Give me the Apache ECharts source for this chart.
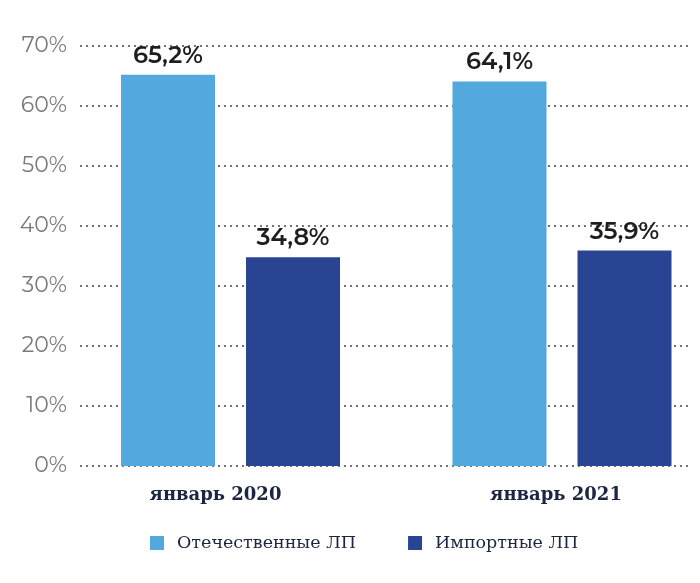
<!DOCTYPE html>
<html><head><meta charset="utf-8">
<script src="https://cdn.jsdelivr.net/npm/echarts@6/dist/echarts.min.js"></script>
<style>html,body{margin:0;padding:0;background:#fff}#c{width:700px;height:583px}</style>
</head><body><div id="c"></div>
<script>
const categories = ['январь 2020', 'январь 2021'];
const seriesNames = ['Отечественные ЛП', 'Импортные ЛП'];
const domestic = [65.2, 64.1];
const imported = [34.8, 35.9];
const yMin = 0, yMax = 70, yStep = 10;

const fmt = v => String(v).replace('.', ',') + '%';
const chart = echarts.init(document.getElementById('c'));
const labelStyle = {show: true, position: 'top', distance: 7, fontFamily: 'Montserrat, "Open Sans", sans-serif',
  fontSize: 24, fontWeight: 600, color: '#1e1e1e', formatter: p => fmt(p.value)};
const xLabelFont = {fontFamily: '"DejaVu Serif", serif', fontWeight: 'bold', fontSize: 18, color: '#1c2541'};
chart.setOption({
  animation: false,
  grid: [
    {left: 80, right: 10, top: 46, bottom: 117},
    {left: 230.5, width: 331.5, top: 46, bottom: 117}
  ],
  legend: {
    data: seriesNames, bottom: 26, left: 145, itemWidth: 14, itemHeight: 14, itemGap: 52,
    icon: 'rect',
    textStyle: {fontFamily: '"DejaVu Serif", serif', fontSize: 17.5, color: '#1c2541', padding: [0, 0, 0, 8]}
  },
  xAxis: [
    {type: 'category', gridIndex: 0, data: categories, show: false},
    {type: 'category', gridIndex: 1, data: categories, boundaryGap: false,
     axisLine: {show: false}, axisTick: {show: false},
     axisLabel: {margin: 20, interval: 0,
       formatter: (v, i) => (i === 0 ? '{a|' : '{b|') + v + '}',
       rich: {a: Object.assign({padding: [0, 30, 0, 0]}, xLabelFont),
              b: Object.assign({padding: [0, 12, 0, 0]}, xLabelFont)}}}
  ],
  yAxis: [
    {type: 'value', gridIndex: 0, min: yMin, max: yMax, interval: yStep,
     axisLine: {show: false}, axisTick: {show: false},
     axisLabel: {margin: 13, formatter: v => v + '%', fontFamily: 'Montserrat, "Open Sans", sans-serif', fontSize: 22, color: '#7a7a7a'},
     splitLine: {lineStyle: {type: [2, 4], color: '#444', width: 1.5}}},
    {type: 'value', gridIndex: 1, min: yMin, max: yMax, interval: yStep, show: false, splitLine: {show: false}}
  ],
  series: [
    {name: seriesNames[0], type: 'bar', xAxisIndex: 1, yAxisIndex: 1, data: domestic, barWidth: 94, barGap: '33%',
     clip: false, itemStyle: {color: '#53a8de'}, label: labelStyle},
    {name: seriesNames[1], type: 'bar', xAxisIndex: 1, yAxisIndex: 1, data: imported, barWidth: 94, barGap: '33%',
     clip: false, itemStyle: {color: '#2a4494'}, label: labelStyle}
  ]
});
</script></body></html>
